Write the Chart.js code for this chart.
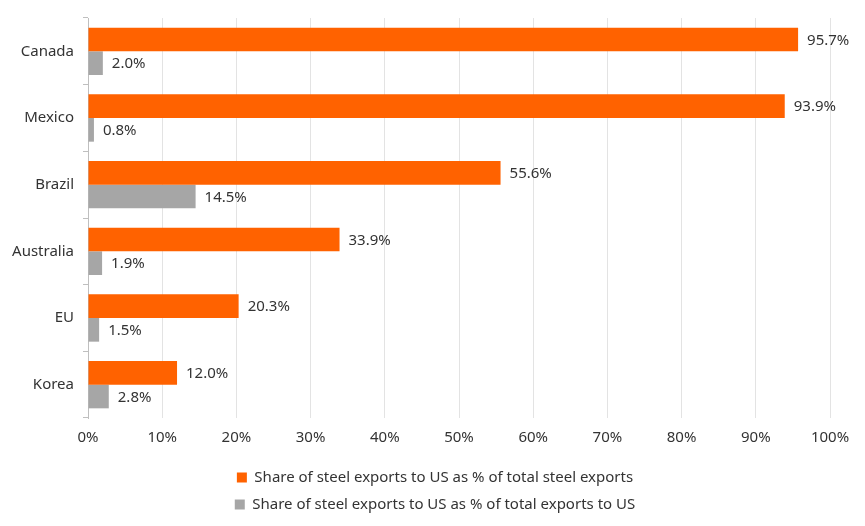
<!DOCTYPE html>
<html>
<head>
<meta charset="utf-8">
<script src="https://cdn.jsdelivr.net/npm/chart.js@4.4.1/dist/chart.umd.min.js"></script>
<style>
html,body{margin:0;padding:0;background:#fff;}
#wrap{width:865px;height:526px;position:relative;}
</style>
</head>
<body>
<div id="wrap"><canvas id="c"></canvas></div>
<script>
const categories = ["Canada", "Mexico", "Brazil", "Australia", "EU", "Korea"];
const steelShare = [95.7, 93.9, 55.6, 33.9, 20.3, 12.0];
const usShare = [2.0, 0.8, 14.5, 1.9, 1.5, 2.8];
const seriesNames = [
  "Share of steel exports to US as % of total steel exports",
  "Share of steel exports to US as % of total exports to US"
];
const xTicks = [0, 10, 20, 30, 40, 50, 60, 70, 80, 90, 100];

const FONT = "'Noto Sans', sans-serif";
const TEXT = "#333333";
const FS = 15;

const valueLabels = {
  id: 'valueLabels',
  afterDatasetsDraw(chart) {
    const ctx = chart.ctx;
    ctx.save();
    ctx.font = FS + "px " + FONT;
    ctx.fillStyle = TEXT;
    ctx.textAlign = 'left';
    ctx.textBaseline = 'middle';
    chart.data.datasets.forEach((ds, i) => {
      const meta = chart.getDatasetMeta(i);
      meta.data.forEach((bar, j) => {
        ctx.fillText(ds.data[j].toFixed(1) + '%', bar.x + 9, bar.y + 1);
      });
    });
    ctx.restore();
  }
};

const legendShift = {
  id: 'legendShift',
  afterLayout(chart) {
    const lg = chart.legend;
    if (lg) { lg.left += 15; lg.right += 15; }
  }
};

new Chart(document.getElementById('c'), {
  type: 'bar',
  data: {
    labels: categories,
    datasets: [
      { label: seriesNames[0], data: steelShare, backgroundColor: '#FF6200', categoryPercentage: 0.71, barPercentage: 1.0 },
      { label: seriesNames[1], data: usShare, backgroundColor: '#A6A6A6', categoryPercentage: 0.71, barPercentage: 1.0 }
    ]
  },
  options: {
    indexAxis: 'y',
    responsive: true,
    maintainAspectRatio: false,
    animation: false,
    layout: { padding: { left: 10, right: 35, top: 15, bottom: 4 } },
    plugins: {
      legend: {
        position: 'bottom',
        labels: {
          font: { family: FONT, size: FS },
          color: TEXT,
          boxWidth: 10,
          boxHeight: 10,
          padding: 12
        }
      },
      tooltip: { enabled: false }
    },
    scales: {
      x: {
        min: 0, max: 100,
        afterBuildTicks(scale) { scale.ticks = xTicks.map(v => ({ value: v })); },
        ticks: {
          callback: v => v + '%',
          font: { family: FONT, size: FS },
          color: TEXT,
          padding: 11
        },
        grid: { color: '#e3e3e3', drawTicks: false },
        border: { display: false }
      },
      y: {
        afterFit(scale) { scale.width = 78; },
        ticks: {
          font: { family: FONT, size: FS },
          color: TEXT,
          padding: 9
        },
        grid: { drawOnChartArea: false, drawTicks: true, tickLength: 5, color: '#bfbfbf', offset: true },
        border: { display: true, color: '#bfbfbf' }
      }
    }
  },
  plugins: [valueLabels, legendShift]
});
</script>
</body>
</html>
